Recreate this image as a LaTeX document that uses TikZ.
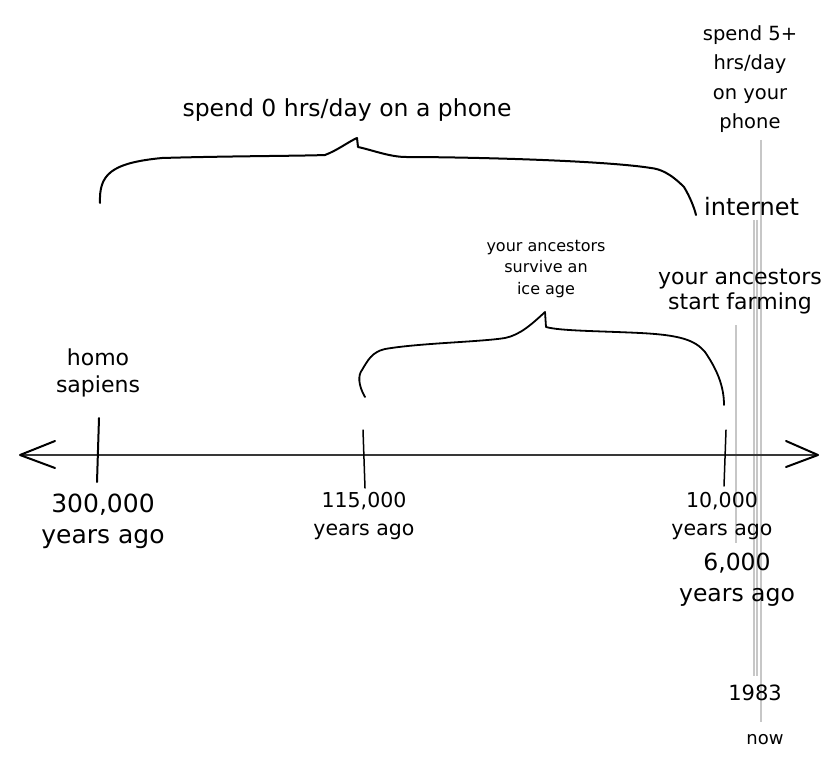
\documentclass[tikz,border=0pt]{standalone}
\usepackage{fontspec}
\setmainfont{DejaVu Sans}
\begin{document}
\begin{tikzpicture}[x=1pt,y=-1pt,
  lbl/.style={inner sep=0pt,align=center,font=\fontsize{21}{29}\selectfont},
  big/.style={inner sep=0pt,align=center,font=\fontsize{25}{31}\selectfont},
  mid/.style={inner sep=0pt,align=center,font=\fontsize{20.5}{28}\selectfont},
  small/.style={inner sep=0pt,align=center,font=\fontsize{16}{21.5}\selectfont},
  axisline/.style={draw=black!78,line width=2.6pt},
  ink/.style={draw=black,line width=2pt,line cap=round,line join=round},
  guide/.style={draw=black!22,line width=1.6pt}]
\useasboundingbox (0,0) rectangle (829,778);
\fill[white] (0,0) rectangle (829,778);

% guide lines (light gray)
\coordinate (g1t) at (736,325); \coordinate (g1b) at (736,543);
\coordinate (g2t) at (754,220); \coordinate (g2b) at (754,676);
\coordinate (g3t) at (757,220); \coordinate (g3b) at (757,676);
\coordinate (g4t) at (761,140); \coordinate (g4b) at (761,722);
\draw[guide] (g1t) -- (g1b);
\draw[guide,line width=1.1pt] (g2t) -- (g2b);
\draw[guide,line width=1.1pt] (g3t) -- (g3b);
\draw[guide] (g4t) -- (g4b);

% axis
\coordinate (aL) at (20,455); \coordinate (aR) at (818,455);
\coordinate (aL1) at (55,441); \coordinate (aL2) at (55,468);
\coordinate (aR1) at (786,441); \coordinate (aR2) at (786,467);
\draw[axisline] (aL) -- (aR);
\draw[ink] (aL1) -- (aL) -- (aL2);
\draw[ink] (aR1) -- (aR) -- (aR2);

% ticks
\coordinate (t1a) at (99,418); \coordinate (t1b) at (97,482);
\coordinate (t2a) at (363,430); \coordinate (t2b) at (365,488);
\coordinate (t3a) at (726,430); \coordinate (t3b) at (724,486);
\draw[ink] (t1a) -- (t1b);
\draw[ink,line width=1.5pt] (t2a) -- (t2b);
\draw[ink,line width=1.5pt] (t3a) -- (t3b);

% top brace
\draw[ink] (100,203) .. controls (99,175) and (110,163) .. (162,158)
  .. controls (230,156) and (300,156) .. (325,155)
  .. controls (338,150) and (348,142) .. (357,138)
  -- (358,147)
  .. controls (372,150) and (390,157) .. (406,157)
  .. controls (460,157) and (600,160) .. (651,168)
  .. controls (660,169) and (670,173) .. (684,187)
  .. controls (690,197) and (694,207) .. (696,215);

% lower brace
\draw[ink,line width=1.8pt] (365,397) .. controls (358,385) and (358,375) .. (362,370)
  .. controls (368,360) and (372,352) .. (385,349)
  .. controls (420,343) and (480,342) .. (505,338)
  .. controls (520,335) and (532,324) .. (545,312)
  -- (546,327)
  .. controls (560,331) and (600,331) .. (640,333)
  .. controls (680,335) and (695,340) .. (705,352)
  .. controls (716,368) and (724,385) .. (724,405);

% labels
\node[lbl,font=\fontsize{19.5}{29.5}\selectfont] (phone5) at (750,79) {spend 5+\\hrs/day\\on your\\phone};
\node[lbl,font=\fontsize{23.5}{29}\selectfont] (phone0) at (347,110) {spend 0 hrs/day on a phone};
\node[lbl,font=\fontsize{24}{29}\selectfont,anchor=west] (inet) at (704,207) {internet};
\node[small] (ice) at (546,269) {your ancestors\\survive an\\ice age};
\node[lbl,font=\fontsize{22}{25}\selectfont] (farm) at (740,292) {your ancestors\\start farming};
\node[lbl,font=\fontsize{22}{27}\selectfont] (homo) at (98,373) {homo\\sapiens};
\node[big] (y300) at (103,521) {300,000\\years ago};
\node[mid,font=\fontsize{20.5}{28}\selectfont] (y115) at (364,516) {115,000\\years ago};
\node[mid] (y10) at (722,516) {10,000\\years ago};
\node[lbl,font=\fontsize{23.5}{31}\selectfont] (y6) at (737,580) {6,000\\years ago};
\node[lbl] (y1983) at (755,693) {1983};
\node[small,font=\fontsize{18}{20}\selectfont] (now) at (765,740) {now};
\end{tikzpicture}
\end{document}
